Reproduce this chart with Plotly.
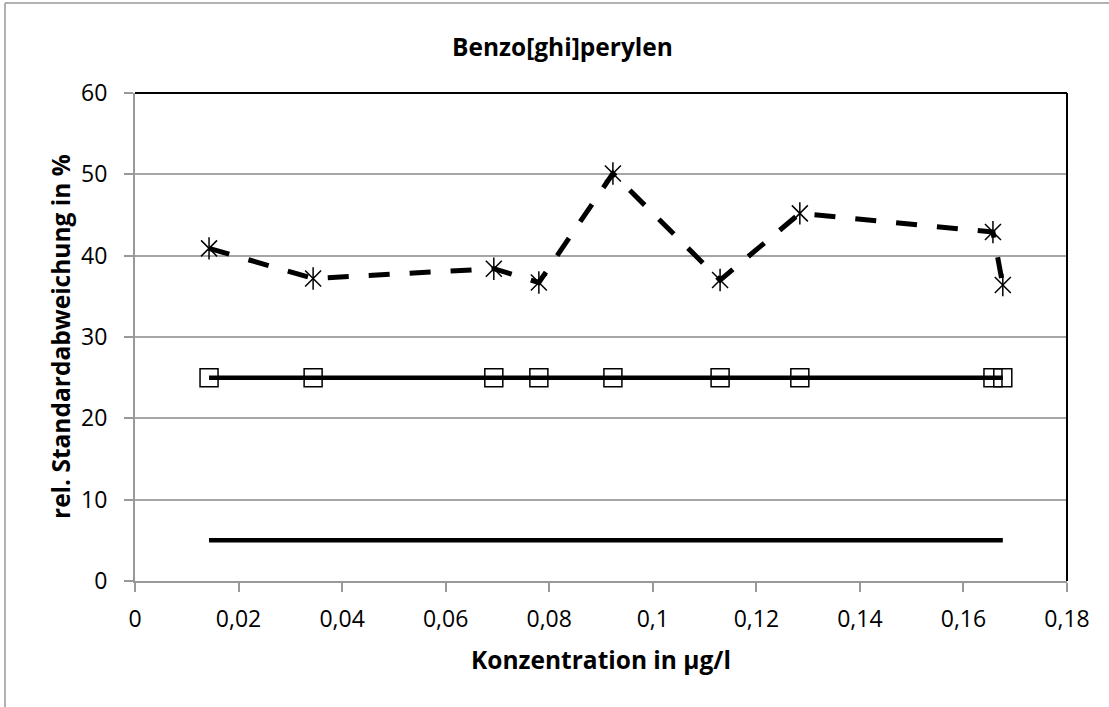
import plotly.graph_objects as go

# Data
konzentration = [0.0143, 0.0344, 0.0693, 0.0780, 0.0923, 0.1130, 0.1284, 0.1657, 0.1676]
rel_std = [40.9, 37.2, 38.4, 36.7, 50.1, 37.0, 45.2, 42.9, 36.4]
grenze_25 = [25, 25, 25, 25, 25, 25, 25, 25, 25]
grenze_5 = [5, 5, 5, 5, 5, 5, 5, 5, 5]

x_ticks = [0, 0.02, 0.04, 0.06, 0.08, 0.1, 0.12, 0.14, 0.16, 0.18]
y_ticks = [0, 10, 20, 30, 40, 50, 60]

title_text = "Benzo[ghi]perylen"
x_title = "Konzentration in µg/l"
y_title = "rel. Standardabweichung in %"

FONT = "Open Sans"
GRAY = "#999999"
TITLE_SIZE = 24.5
TICK_SIZE = 23

fig = go.Figure()

# 5 % line (no markers)
fig.add_trace(go.Scatter(x=konzentration, y=grenze_5, mode="lines",
                         line=dict(color="black", width=4.5), showlegend=False))
# 25 % line with open squares
fig.add_trace(go.Scatter(x=konzentration, y=grenze_25, mode="lines+markers",
                         line=dict(color="black", width=4.5),
                         marker=dict(symbol="square-open", size=18, color="black",
                                     line=dict(width=1.5, color="black")),
                         showlegend=False))
# measured relative std dev, dashed with star markers
fig.add_trace(go.Scatter(x=konzentration, y=rel_std, mode="lines+markers",
                         line=dict(color="black", width=5, dash="21px,20px"),
                         marker=dict(symbol="x-thin-open", size=16, color="black",
                                     line=dict(width=1.5, color="black")),
                         showlegend=False))
fig.add_trace(go.Scatter(x=konzentration, y=rel_std, mode="markers",
                         marker=dict(symbol="line-ns-open", size=16, color="black",
                                     line=dict(width=1.5, color="black")),
                         showlegend=False))

fig.update_layout(
    width=1109, height=707,
    margin=dict(l=135, r=42, t=93, b=126),
    paper_bgcolor="white", plot_bgcolor="white",
    separators=",.",
    font=dict(family=FONT, size=TICK_SIZE, color="black"),
    showlegend=False,
    xaxis=dict(range=[0, 0.18], tickvals=x_ticks, showgrid=False, zeroline=False,
               showline=True, linecolor=GRAY, linewidth=2,
               ticks="outside", ticklen=9, tickwidth=1.5, tickcolor=GRAY,
               ticklabelstandoff=7,
               tickfont=dict(family=FONT, size=TICK_SIZE, color="black")),
    yaxis=dict(range=[0, 60], tickvals=y_ticks, showgrid=True, gridcolor="#a6a6a6",
               gridwidth=1.5, zeroline=False,
               showline=True, linecolor=GRAY, linewidth=2,
               ticks="outside", ticklen=9, tickwidth=1.5, tickcolor=GRAY,
               ticklabelstandoff=12,
               tickfont=dict(family=FONT, size=TICK_SIZE, color="black")),
    shapes=[
        # plot area border top and right (black)
        dict(type="line", xref="paper", yref="paper", x0=0, x1=1, y0=1, y1=1,
             line=dict(color="black", width=2)),
        dict(type="line", xref="paper", yref="paper", x0=1, x1=1, y0=0, y1=1,
             line=dict(color="black", width=2)),
        # outer chart border (left and top)
        dict(type="line", xref="paper", yref="paper",
             x0=(5 - 135) / 932, x1=(1120 - 135) / 932,
             y0=(581 - 3) / 488, y1=(581 - 3) / 488,
             line=dict(color=GRAY, width=1.5)),
        dict(type="line", xref="paper", yref="paper",
             x0=(5 - 135) / 932, x1=(5 - 135) / 932,
             y0=(581 - 3) / 488, y1=(581 - 720) / 488,
             line=dict(color=GRAY, width=1.5)),
    ],
    annotations=[
        dict(text="<b>" + title_text + "</b>", xref="paper", yref="paper",
             x=(562 - 135) / 932, y=(581 - 46) / 488, xanchor="center", yanchor="middle",
             showarrow=False, font=dict(family=FONT, size=TITLE_SIZE, color="black")),
        dict(text="<b>" + x_title + "</b>", xref="paper", yref="paper",
             x=(601 - 135) / 932, y=(581 - 659) / 488, xanchor="center", yanchor="middle",
             showarrow=False, font=dict(family=FONT, size=TITLE_SIZE, color="black")),
        dict(text="<b>" + y_title + "</b>", xref="paper", yref="paper",
             x=(60 - 135) / 932, y=0.5, xanchor="center", yanchor="middle",
             textangle=-90, showarrow=False,
             font=dict(family=FONT, size=TITLE_SIZE, color="black")),
    ],
)

fig.write_html("out.html", config={"displayModeBar": False},
               post_script="document.body.style.margin='0';")
